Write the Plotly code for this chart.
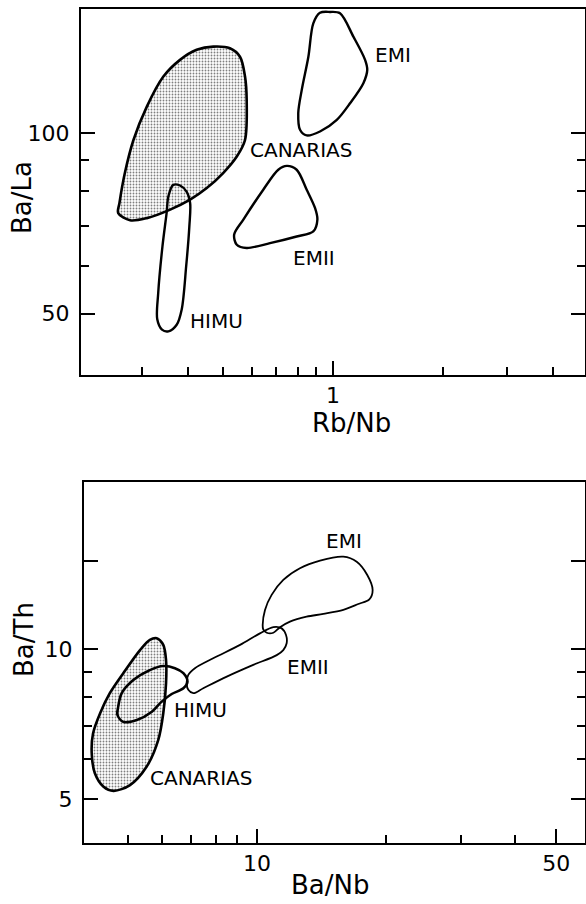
import plotly.graph_objects as go
import math

# ---------------- Top panel: Rb/Nb (x) vs Ba/La (y) ----------------
top_canarias_rbnb = [0.470, 0.522, 0.556, 0.574, 0.580, 0.574, 0.545, 0.500, 0.451, 0.406, 0.358,
                     0.309, 0.278, 0.258, 0.260, 0.269, 0.284, 0.309, 0.343, 0.381, 0.423]
top_canarias_bala = [139.2, 138.3, 133.9, 124.1, 113.5, 97.3, 91.3, 85.7, 80.9, 77.4, 74.5,
                     72.1, 71.5, 73.5, 76.4, 85.7, 97.3, 110.6, 124.1, 132.3, 137.5]

top_himu_rbnb = [0.365, 0.381, 0.397, 0.406, 0.404, 0.396, 0.385, 0.373, 0.354, 0.340, 0.330,
                 0.332, 0.341, 0.350, 0.354]
top_himu_bala = [81.9, 81.7, 79.8, 76.4, 69.8, 59.9, 50.8, 47.9, 46.7, 47.0, 48.9,
                 54.1, 64.7, 73.5, 78.4]

top_emi_rbnb = [0.981, 1.045, 1.137, 1.224, 1.241, 1.211, 1.113, 1.024, 0.921, 0.847, 0.812,
                0.803, 0.821, 0.856, 0.883, 0.921]
top_emi_bala = [159.0, 158.2, 144.6, 132.3, 127.3, 121.0, 112.0, 105.1, 100.5, 99.0, 101.2,
                107.8, 117.9, 133.9, 152.2, 158.5]

top_emii_rbnb = [0.747, 0.795, 0.847, 0.893, 0.906, 0.883, 0.795, 0.672, 0.580, 0.545, 0.536,
                 0.568, 0.644, 0.708]
top_emii_bala = [88.1, 86.8, 80.4, 74.9, 71.7, 68.5, 67.2, 65.5, 64.3, 65.1, 67.7,
                 71.7, 80.4, 86.8]

# ---------------- Bottom panel: Ba/Nb (x) vs Ba/Th (y) ----------------
bot_canarias_banb = [5.83, 6.04, 6.13, 6.13, 6.04, 5.88, 5.52, 5.05, 4.62, 4.38, 4.18,
                     4.11, 4.14, 4.30, 4.53, 4.87, 5.33, 5.62]
bot_canarias_bath = [10.51, 10.19, 9.50, 8.53, 7.43, 6.57, 5.80, 5.33, 5.19, 5.29, 5.63,
                     6.17, 6.77, 7.43, 8.15, 8.94, 9.95, 10.43]

bot_himu_banb = [4.74, 4.83, 5.14, 5.62, 6.04, 6.43, 6.73, 6.88, 6.73, 6.32, 5.99,
                 5.68, 5.24, 4.87, 4.72]
bot_himu_bath = [7.66, 8.15, 8.66, 9.07, 9.24, 9.15, 8.94, 8.60, 8.34, 8.12, 7.84,
                 7.48, 7.20, 7.14, 7.37]

bot_emii_banb = [6.91, 7.16, 7.90, 9.13, 10.16, 10.92, 11.42, 11.69, 11.73, 11.52, 11.12,
                 9.80, 8.50, 7.49, 7.10, 6.91, 6.85]
bot_emii_bath = [8.87, 9.15, 9.58, 10.19, 10.75, 11.06, 11.00, 10.67, 10.27, 9.95, 9.72,
                 9.29, 8.80, 8.34, 8.15, 8.28, 8.53]

bot_emi_banb = [10.31, 10.44, 10.82, 11.52, 12.60, 14.04, 15.91, 17.10, 18.10, 18.63, 18.30,
                17.25, 15.91, 14.29, 13.06, 11.94, 11.32, 10.92, 10.54, 10.34]
bot_emi_bath = [11.17, 11.98, 12.84, 13.76, 14.52, 15.04, 15.32, 14.97, 14.08, 13.14, 12.58,
                12.31, 11.98, 11.76, 11.61, 11.35, 11.06, 10.78, 10.78, 10.95]

# labels (name, x, y)
top_labels = [("EMI", 1.46, 134.8), ("CANARIAS", 0.817, 93.7), ("EMII", 0.887, 61.9), ("HIMU", 0.478, 48.5)]
bot_labels = [("EMI", 15.97, 16.48), ("EMII", 13.16, 9.20), ("HIMU", 7.36, 7.54), ("CANARIAS", 7.40, 5.51)]

# axis ticks
top_x_major = [1]
top_x_minor = [0.3, 0.4, 0.5, 0.6, 0.7, 0.8, 0.9, 2, 3, 4]
top_y_major = [50, 100]
top_y_minor = [60, 70, 80, 90]
bot_x_major = [10, 50]
bot_x_minor = [5, 6, 7, 8, 9, 20, 30, 40]
bot_y_major = [5, 10, 15]
bot_y_major_text = ["5", "10", ""]
bot_y_minor = [6, 7, 8, 9]

W, H = 586, 904
FONT = "DejaVu Sans"


def closed(a):
    return list(a) + [a[0]]


fig = go.Figure()

pattern = dict(shape=".", fgcolor="black", bgcolor="white", size=3, solidity=0.3)


def add_shape(xs, ys, xa, ya, width, filled=False):
    kw = {}
    if filled:
        kw = dict(fill="toself", fillpattern=pattern, fillcolor="white")
    fig.add_trace(go.Scatter(
        x=closed(xs), y=closed(ys), mode="lines", xaxis=xa, yaxis=ya,
        line=dict(color="black", width=width, shape="spline", smoothing=0.9),
        hoverinfo="skip", showlegend=False, **kw))


add_shape(top_canarias_rbnb, top_canarias_bala, "x", "y", 2.6, filled=True)
add_shape(top_himu_rbnb, top_himu_bala, "x", "y", 2.4)
add_shape(top_emi_rbnb, top_emi_bala, "x", "y", 2.4)
add_shape(top_emii_rbnb, top_emii_bala, "x", "y", 2.4)

add_shape(bot_canarias_banb, bot_canarias_bath, "x2", "y2", 2.6, filled=True)
add_shape(bot_himu_banb, bot_himu_bath, "x2", "y2", 2.6)
add_shape(bot_emii_banb, bot_emii_bath, "x2", "y2", 1.8)
add_shape(bot_emi_banb, bot_emi_bath, "x2", "y2", 1.8)

LABEL_SIZE = 20
annotations = []
for name, x, y in top_labels:
    annotations.append(dict(text=name, x=math.log10(x), y=math.log10(y), xref="x", yref="y",
                            showarrow=False, font=dict(family=FONT, size=LABEL_SIZE, color="black"),
                            xanchor="center", yanchor="middle"))
for name, x, y in bot_labels:
    annotations.append(dict(text=name, x=math.log10(x), y=math.log10(y), xref="x2", yref="y2",
                            showarrow=False, font=dict(family=FONT, size=LABEL_SIZE, color="black"),
                            xanchor="center", yanchor="middle"))

# axis titles
titles = [("Rb/Nb", 351, 423, 0), ("Ba/La", 22, 198, -90), ("Ba/Nb", 330, 885, 0), ("Ba/Th", 24, 640, -90)]
for t, px, py, ang in titles:
    annotations.append(dict(text=t, x=px / W, y=1 - py / H, xref="paper", yref="paper",
                            showarrow=False, textangle=ang,
                            font=dict(family=FONT, size=26, color="black"),
                            xanchor="center", yanchor="middle"))


def axis_common():
    return dict(type="log", showgrid=False, zeroline=False, showline=True, linecolor="black",
                linewidth=2, ticks="inside", tickcolor="black", tickwidth=2, ticklen=14,
                tickfont=dict(family=FONT, size=22, color="black"))


xa = axis_common()
xa.update(domain=[81 / W, 585 / W], range=[math.log10(0.204), math.log10(4.90)], anchor="y",
          tickmode="array", tickvals=top_x_major, ticktext=[str(v) for v in top_x_major],
          mirror=True, ticklabelstandoff=0,
          minor=dict(tickmode="array", tickvals=top_x_minor, ticks="inside", ticklen=8,
                     tickwidth=1.5, tickcolor="black", showgrid=False))
ya = axis_common()
ya.update(domain=[1 - 375 / H, 1 - 9 / H], range=[math.log10(39.5), math.log10(160.8)], anchor="x",
          tickmode="array", tickvals=top_y_major, ticktext=[str(v) for v in top_y_major],
          mirror="ticks", ticklabelstandoff=5,
          minor=dict(tickmode="array", tickvals=top_y_minor, ticks="inside", ticklen=8,
                     tickwidth=1.5, tickcolor="black", showgrid=False))
xb = axis_common()
xb.update(domain=[84 / W, 585 / W], range=[0.5958, 1.7664], anchor="y2",
          tickmode="array", tickvals=bot_x_major, ticktext=[str(v) for v in bot_x_major],
          mirror=True, ticklabelstandoff=0,
          minor=dict(tickmode="array", tickvals=bot_x_minor, ticks="inside", ticklen=8,
                     tickwidth=1.5, tickcolor="black", showgrid=False))
yb = axis_common()
yb.update(domain=[1 - 843 / H, 1 - 482 / H], range=[0.6104, 1.3353], anchor="x2",
          tickmode="array", tickvals=bot_y_major, ticktext=bot_y_major_text,
          mirror="ticks", ticklabelstandoff=5,
          minor=dict(tickmode="array", tickvals=bot_y_minor, ticks="inside", ticklen=8,
                     tickwidth=1.5, tickcolor="black", showgrid=False))

fig.update_layout(
    width=W, height=H, margin=dict(l=0, r=0, t=0, b=0),
    paper_bgcolor="white", plot_bgcolor="white", showlegend=False,
    xaxis=xa, yaxis=ya, xaxis2=xb, yaxis2=yb,
    annotations=annotations,
)

fig.write_html("out.html")
